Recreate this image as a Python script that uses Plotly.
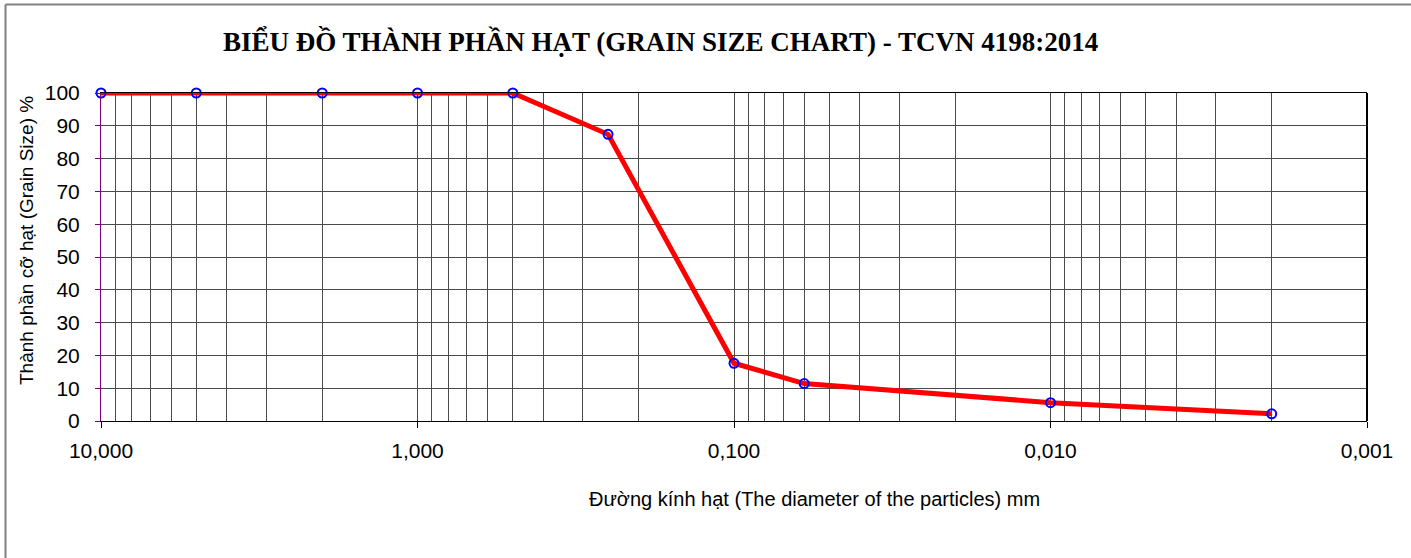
import plotly.graph_objects as go

# Data
diameter_mm = [10, 5, 2, 1, 0.5, 0.25, 0.1, 0.06, 0.01, 0.002]
passing_pct = [100, 100, 100, 100, 100, 87.4, 17.6, 11.4, 5.6, 2.2]

x_tick_vals = [10, 1, 0.1, 0.01, 0.001]
x_tick_text = ["10,000", "1,000", "0,100", "0,010", "0,001"]
y_tick_vals = list(range(0, 101, 10))

title_text = "BIỂU ĐỒ THÀNH PHẦN HẠT (GRAIN SIZE CHART) - TCVN 4198:2014"
x_title = "Đường kính hạt (The diameter of the particles) mm"
y_title = "Thành phần cỡ hạt (Grain Size) %"

minor_vals = [m * 10 ** e for e in range(-3, 1) for m in range(2, 10)]

W, H = 1411, 558
ml, mr, mt, mb = 101, 44, 93, 137
pw, ph = W - ml - mr, H - mt - mb

def px(xp):
    return (xp - ml) / pw

def py(yp):
    return (H - mb - yp) / ph

grid_col = "#4a4a4a"

fig = go.Figure()
fig.add_trace(go.Scatter(
    x=diameter_mm, y=passing_pct, mode="lines+markers",
    line=dict(color="#FF0000", width=5),
    marker=dict(symbol="circle-open", size=9, color="#0000FF", line=dict(width=2, color="#0000FF")),
    cliponaxis=False, showlegend=False,
))

fig.update_layout(
    width=W, height=H,
    margin=dict(l=ml, r=mr, t=mt, b=mb),
    paper_bgcolor="white", plot_bgcolor="white",
    font=dict(family="Liberation Sans, Arial, sans-serif", color="black"),
    showlegend=False,
)

fig.update_xaxes(
    type="log", range=[1, -3],
    tickmode="array", tickvals=x_tick_vals, ticktext=x_tick_text,
    tickfont=dict(size=21, family="Liberation Sans, Arial"),
    ticks="outside", ticklen=6, tickcolor="black", tickwidth=1,
    showline=True, linecolor="black", linewidth=1, mirror=True,
    showgrid=True, gridcolor=grid_col, gridwidth=1,
    minor=dict(tickmode="array", tickvals=minor_vals, showgrid=True,
               gridcolor=grid_col, gridwidth=1, ticks=""),
    ticklabelstandoff=5,
    zeroline=False,
)
fig.update_yaxes(
    range=[0, 100], tickmode="array", tickvals=y_tick_vals,
    tickfont=dict(size=21, family="Liberation Sans, Arial"),
    ticks="outside", ticklen=5, tickcolor="#800080", tickwidth=1,
    showline=True, linecolor="#800080", linewidth=1, mirror=False,
    showgrid=True, gridcolor=grid_col, gridwidth=1,
    ticklabelstandoff=11,
    zeroline=False,
)

# right border of plot area
fig.add_shape(type="line", xref="paper", yref="paper", x0=1, x1=1, y0=0, y1=1,
              line=dict(color="black", width=2), layer="above")
# outer chart frame (only top and left edges fall inside the picture)
fig.add_shape(type="line", xref="paper", yref="paper",
              x0=px(5.5), x1=px(1411), y0=py(4.5), y1=py(4.5),
              line=dict(color="#808080", width=2), layer="below")
fig.add_shape(type="line", xref="paper", yref="paper",
              x0=px(5.5), x1=px(5.5), y0=py(4.5), y1=py(558),
              line=dict(color="#808080", width=2), layer="below")

fig.add_annotation(text="<b>" + title_text + "</b>", xref="paper", yref="paper",
                   x=px(660), y=py(41), showarrow=False, xanchor="center", yanchor="middle",
                   font=dict(family="Liberation Serif, Times New Roman, serif", size=27, color="black"))
fig.add_annotation(text=x_title, xref="paper", yref="paper",
                   x=px(814), y=py(499), showarrow=False, xanchor="center", yanchor="middle",
                   font=dict(family="Liberation Sans Narrow, Liberation Sans, Arial", size=20, color="black"))
fig.add_annotation(text=y_title, xref="paper", yref="paper", textangle=-90,
                   x=px(26), y=py(241), showarrow=False, xanchor="center", yanchor="middle",
                   font=dict(family="Liberation Sans Narrow, Liberation Sans, Arial", size=19, color="black"))

fig.write_html("out.html")
